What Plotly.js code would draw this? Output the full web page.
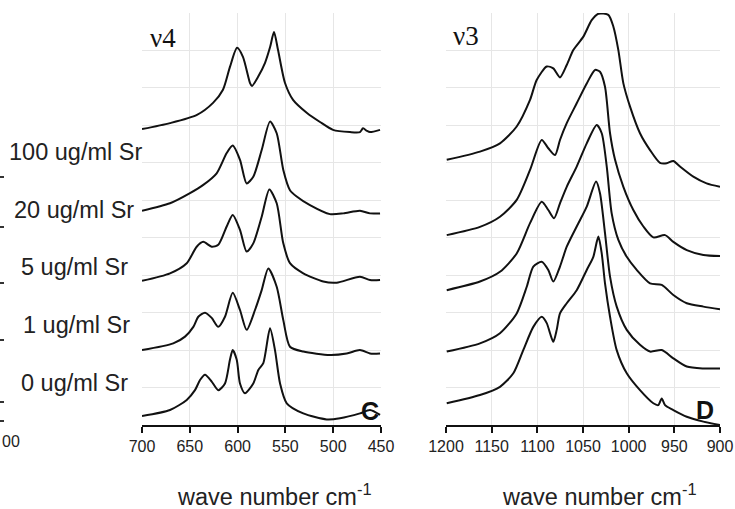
<!DOCTYPE html>
<html>
<head>
<meta charset="utf-8">
<script src="https://cdn.plot.ly/plotly-3.0.1.min.js"></script>
<style>html,body{margin:0;padding:0;background:#fff;}#chart{width:735px;height:509px;}</style>
</head>
<body>
<div id="chart"></div>
<script>
// ---- labels ----
const seriesLabels = ["100 ug/ml Sr", "20 ug/ml Sr", "5 ug/ml Sr", "1 ug/ml Sr", "0 ug/ml Sr"];
const panelCTicks = [700, 650, 600, 550, 500, 450];
const panelDTicks = [1200, 1150, 1100, 1050, 1000, 950, 900];

// ---- panel C (nu4), wave numbers and offset absorbance ----
const v4_w_1 = [700,670.7,642.5,625.7,615.3,608,600.6,594.4,587,585,578.7,571.3,566,561.9,557.7,550.4,542,527.4,513.8,500.2,482.4,472,468.8,464.6,461.5,451];
const v4_a_1 = [7.90,8.06,8.28,8.60,8.95,9.56,10.07,9.83,9.13,9.05,9.29,9.67,10.09,10.49,10.01,9.13,8.68,8.33,8.09,7.88,7.82,7.82,7.92,7.85,7.82,7.88];

const v4_w_2 = [700,670.7,649.8,635.9,621.9,611.4,605.1,597.5,590.5,583.6,574.8,566.1,559.1,552.2,545.2,538.2,524.3,503.4,489.4,472,461.5,451];
const v4_a_2 = [5.72,5.92,6.19,6.41,6.72,7.26,7.46,7.08,6.45,6.63,7.34,8.10,7.79,6.81,6.27,6.10,5.87,5.63,5.65,5.72,5.65,5.65];

const v4_w_3 = [700,670.7,653.2,642.8,635.9,627.1,620.2,611.4,605.1,597.5,590.5,583.6,574.8,566.8,559.1,552.2,545.2,531.3,510.4,496.4,472,461.5,451];
const v4_a_3 = [3.85,4.05,4.32,4.76,4.89,4.76,4.81,5.30,5.61,5.21,4.63,4.85,5.56,6.29,5.92,4.85,4.32,4.05,3.83,3.80,3.96,3.87,3.87];

const v4_w_4 = [700,667.3,655,646.3,641.1,634.1,627.1,620.2,613.2,605.1,597.5,590.5,581.8,574.8,567.9,559.1,552.2,545.2,531.3,503.4,485.9,472,461.5,451];
const v4_a_4 = [2.00,2.18,2.36,2.62,2.89,3.00,2.86,2.62,2.89,3.53,3.07,2.54,3.07,3.60,4.18,3.69,2.80,2.09,1.96,1.87,1.91,2.00,1.91,1.91];

const v4_w_5 = [700,670.7,653.2,644.6,639.3,634.1,627.1,620.2,613.2,608,605.1,600.9,597.5,592.3,583.6,578.3,573.1,566.1,560.9,555.6,548.6,531.3,506.8,492.9,472,461.5,451];
const v4_a_5 = [0.24,0.40,0.67,0.93,1.20,1.34,1.16,0.93,1.11,1.74,2.00,1.74,1.11,0.85,1.11,1.47,1.65,2.58,2.00,1.11,0.58,0.31,0.15,0.18,0.31,0.40,0.27];

// ---- panel D (nu3) ----
const v3_w_1 = [1199.2,1162.8,1140.9,1122.6,1108,1100.7,1089.7,1082.5,1075.2,1067.8,1060.6,1049.6,1040.5,1033.2,1022.3,1016.8,1011.3,1005.8,998.5,987.6,976.6,965.7,958.3,951.1,943.8,929.2,914.7,900];
const v3_a_1 = [7.08,7.30,7.52,7.97,8.68,9.21,9.57,9.52,9.28,9.61,10.01,10.37,10.81,10.98,10.95,10.64,10.01,9.12,8.50,7.79,7.34,7.00,6.99,7.05,6.90,6.63,6.45,6.36];

const v3_w_2 = [1199.2,1162.8,1140.9,1122.6,1108,1095.2,1088,1080.6,1075.2,1067.8,1056.9,1045.9,1036.8,1031.4,1025.9,1020.4,1014.9,1005.8,994.9,983.9,973,960.2,951.1,936.4,918.2,900];
const v3_a_2 = [5.07,5.29,5.56,6.01,6.81,7.61,7.39,7.21,7.61,8.06,8.59,9.12,9.48,9.43,9.03,7.79,7.08,6.36,5.74,5.30,5.01,5.07,4.89,4.67,4.54,4.51];

const v3_w_3 = [1199.2,1162.8,1140.9,1122.6,1108,1095.2,1088,1081.7,1075.2,1067.8,1056.9,1045.9,1035,1029.5,1024,1018.6,1011.3,1002.1,991.2,976.6,963.8,951.1,936.4,918.2,900];
const v3_a_3 = [3.60,3.83,4.09,4.58,5.39,5.96,5.74,5.52,5.92,6.36,6.90,7.52,8.01,7.79,6.90,5.65,4.94,4.49,4.14,3.78,3.74,3.47,3.25,3.16,3.09];

const v3_w_4 = [1199.2,1162.8,1140.9,1122.6,1111.6,1104.4,1095.2,1088,1082.5,1075.2,1067.8,1056.9,1045.9,1035.7,1031.4,1025.9,1020.4,1013.1,1002.1,987.6,976.6,963.8,951.1,936.4,918.2,900];
const v3_a_4 = [1.96,2.18,2.45,2.98,3.69,4.23,4.36,4.14,3.83,4.23,4.76,5.30,5.83,6.50,6.19,5.12,3.96,3.16,2.54,2.14,1.96,2.00,1.78,1.56,1.51,1.51];

const v3_w_5 = [1199.2,1162.8,1140.9,1126.3,1115.4,1104.4,1095.2,1089.7,1086.1,1082.5,1078.8,1075.2,1067.8,1056.9,1045.9,1038.7,1033.2,1029.5,1025.9,1020.4,1013.1,1002.1,987.6,973,967.6,963.8,960.2,951.1,936.4,918.2,900];
const v3_a_5 = [0.58,0.80,1.02,1.38,2.00,2.62,2.89,2.72,2.45,2.22,2.54,2.98,3.25,3.60,4.14,4.49,5.03,4.58,3.78,2.89,2.00,1.38,0.93,0.58,0.53,0.71,0.53,0.40,0.22,0.09,0.00];

const panelC = [[v4_w_1,v4_a_1],[v4_w_2,v4_a_2],[v4_w_3,v4_a_3],[v4_w_4,v4_a_4],[v4_w_5,v4_a_5]];
const panelD = [[v3_w_1,v3_a_1],[v3_w_2,v3_a_2],[v3_w_3,v3_a_3],[v3_w_4,v3_a_4],[v3_w_5,v3_a_5]];

const W = 735, H = 509;
const M = {l: 0, r: 0, t: 13, b: 84};
const plotH = H - M.t - M.b;
// helpers converting figure pixels to paper fractions (paper = plot area)
const px = x => (x - M.l) / (W - M.l - M.r);
const py = y => (H - M.b - y) / plotH;

const lineStyle = {color: '#111', width: 2, shape: 'spline', smoothing: 0.7};
const traces = [];
panelC.forEach((s, i) => traces.push({x: s[0], y: s[1], type: 'scatter', mode: 'lines', line: lineStyle, xaxis: 'x', yaxis: 'y', name: 'C ' + i, hoverinfo: 'skip'}));
panelD.forEach((s, i) => traces.push({x: s[0], y: s[1], type: 'scatter', mode: 'lines', line: lineStyle, xaxis: 'x2', yaxis: 'y2', name: 'D ' + i, hoverinfo: 'skip'}));

const tickFont = {family: 'Liberation Sans, Arial, sans-serif', size: 16, color: '#222'};
function xAxis(domain, range, ticks, anchor) {
  return {domain: domain, range: range, tickvals: ticks, ticktext: ticks.map(String), anchor: anchor,
    showgrid: true, gridcolor: '#e6e6e6', gridwidth: 1, zeroline: false,
    showline: true, linecolor: '#111', linewidth: 2, ticks: 'outside', ticklen: 6, tickwidth: 2, tickcolor: '#111',
    tickfont: tickFont, fixedrange: true};
}
function yAxis(anchor) {
  return {domain: [0, 1], range: [0, 11], dtick: 1, tick0: 0, anchor: anchor, showticklabels: false,
    showgrid: true, gridcolor: '#e6e6e6', gridwidth: 1, zeroline: false, showline: false, ticks: '', fixedrange: true};
}

const labelFont = {family: 'Liberation Sans, Arial, sans-serif', size: 23.5, color: '#222'};
const labelX = [7, 12, 19, 21, 19];
const labelY = [152, 210, 267, 325, 383];
const annotations = seriesLabels.map((t, i) => ({text: t, xref: 'paper', yref: 'paper', x: px(labelX[i]), y: py(labelY[i]), xanchor: 'left', yanchor: 'middle', showarrow: false, font: labelFont}));
annotations.push({text: 'wave number cm<sup>-1</sup>', xref: 'paper', yref: 'paper', x: px(175), y: py(495), xanchor: 'left', yanchor: 'middle', showarrow: false, font: labelFont});
annotations.push({text: 'wave number cm<sup>-1</sup>', xref: 'paper', yref: 'paper', x: px(500), y: py(495), xanchor: 'left', yanchor: 'middle', showarrow: false, font: labelFont});
annotations.push({text: 'ν4', xref: 'paper', yref: 'paper', x: px(148), y: py(38), xanchor: 'left', yanchor: 'middle', showarrow: false, font: {family: 'Liberation Serif, Times New Roman, serif', size: 27, color: '#111'}});
annotations.push({text: 'ν3', xref: 'paper', yref: 'paper', x: px(451), y: py(36), xanchor: 'left', yanchor: 'middle', showarrow: false, font: {family: 'Liberation Serif, Times New Roman, serif', size: 27, color: '#111'}});
annotations.push({text: '<b>C</b>', xref: 'paper', yref: 'paper', x: px(370), y: py(411), xanchor: 'center', yanchor: 'middle', showarrow: false, font: {family: 'Liberation Sans, Arial, sans-serif', size: 25, color: '#111'}});
annotations.push({text: '<b>D</b>', xref: 'paper', yref: 'paper', x: px(705), y: py(410), xanchor: 'center', yanchor: 'middle', showarrow: false, font: {family: 'Liberation Sans, Arial, sans-serif', size: 25, color: '#111'}});
// cut-off neighbouring panel at the left edge
annotations.push({text: '00', xref: 'paper', yref: 'paper', x: px(0), y: py(441), xanchor: 'left', yanchor: 'middle', showarrow: false, font: tickFont});
const edgeTickY = [177, 227, 283, 340, 402, 421];
const shapes = edgeTickY.map(y => ({type: 'line', xref: 'paper', yref: 'paper', x0: px(0), x1: px(4), y0: py(y), y1: py(y), line: {color: '#333', width: 2}}));

const layout = {
  width: W, height: H, margin: M, paper_bgcolor: '#fff', plot_bgcolor: '#fff',
  showlegend: false,
  xaxis: xAxis([px(142), px(381)], [700, 450], panelCTicks, 'y'),
  yaxis: yAxis('x'),
  xaxis2: xAxis([px(446), px(720)], [1200, 900], panelDTicks, 'y2'),
  yaxis2: yAxis('x2'),
  annotations: annotations, shapes: shapes
};
Plotly.newPlot('chart', traces, layout, {staticPlot: true});
</script>
</body>
</html>
